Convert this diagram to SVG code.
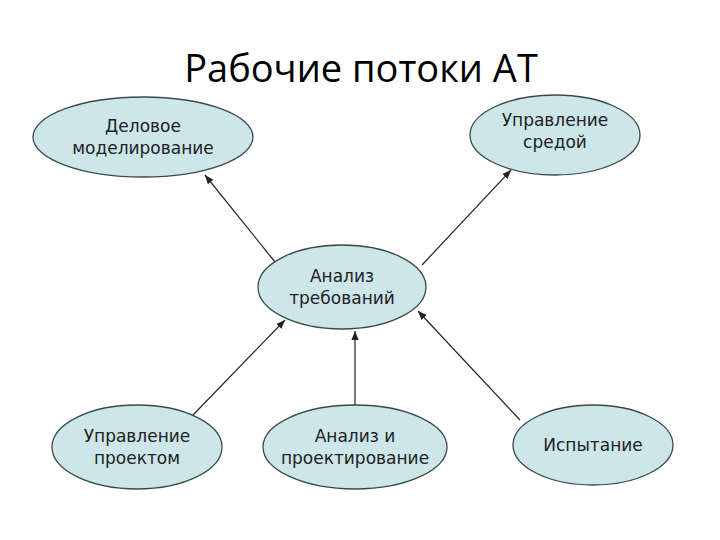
<svg xmlns="http://www.w3.org/2000/svg" width="720" height="540" viewBox="0 0 720 540">
<style>
.n ellipse{fill:#cde6ea;stroke:#3a4a4a;stroke-width:1.3}
.n text{font-family:"DejaVu Sans","Liberation Sans",sans-serif;font-size:17px;fill:#222;text-anchor:middle}
.c line{stroke:#222;stroke-width:1.2;marker-end:url(#a)}
</style>
<defs><marker id="a" viewBox="0 0 10 10" refX="10" refY="5" markerWidth="9" markerHeight="9" orient="auto" markerUnits="userSpaceOnUse"><path d="M0,1 L10,5 L0,9 z" fill="#222"/></marker></defs>
<rect width="720" height="540" fill="#fff"/>
<text x="361" y="82" font-family="'Open Sans','Liberation Sans',sans-serif" font-size="38" text-anchor="middle" fill="#000">Рабочие потоки АТ</text>
<g class="c">
<line x1="275" y1="262" x2="205" y2="175"/>
<line x1="422" y1="265" x2="511" y2="170"/>
<line x1="193" y1="415" x2="285" y2="320"/>
<line x1="355" y1="408" x2="355" y2="331"/>
<line x1="520" y1="420" x2="418" y2="311"/>
</g>
<g id="n1" class="n"><ellipse cx="143" cy="137" rx="110" ry="40"/><text x="143" y="132">Деловое</text><text x="143" y="154">моделирование</text></g>
<g id="n2" class="n"><ellipse cx="555" cy="135" rx="85" ry="40"/><text x="555" y="126">Управление</text><text x="555" y="148">средой</text></g>
<g id="n3" class="n"><ellipse cx="342" cy="287" rx="84" ry="42"/><text x="342" y="282">Анализ</text><text x="342" y="304">требований</text></g>
<g id="n4" class="n"><ellipse cx="137" cy="447" rx="85" ry="42"/><text x="137" y="442">Управление</text><text x="137" y="464">проектом</text></g>
<g id="n5" class="n"><ellipse cx="355" cy="447" rx="92" ry="42"/><text x="355" y="442">Анализ и</text><text x="355" y="464">проектирование</text></g>
<g id="n6" class="n"><ellipse cx="593" cy="445" rx="80" ry="40"/><text x="593" y="451">Испытание</text></g>
</svg>
